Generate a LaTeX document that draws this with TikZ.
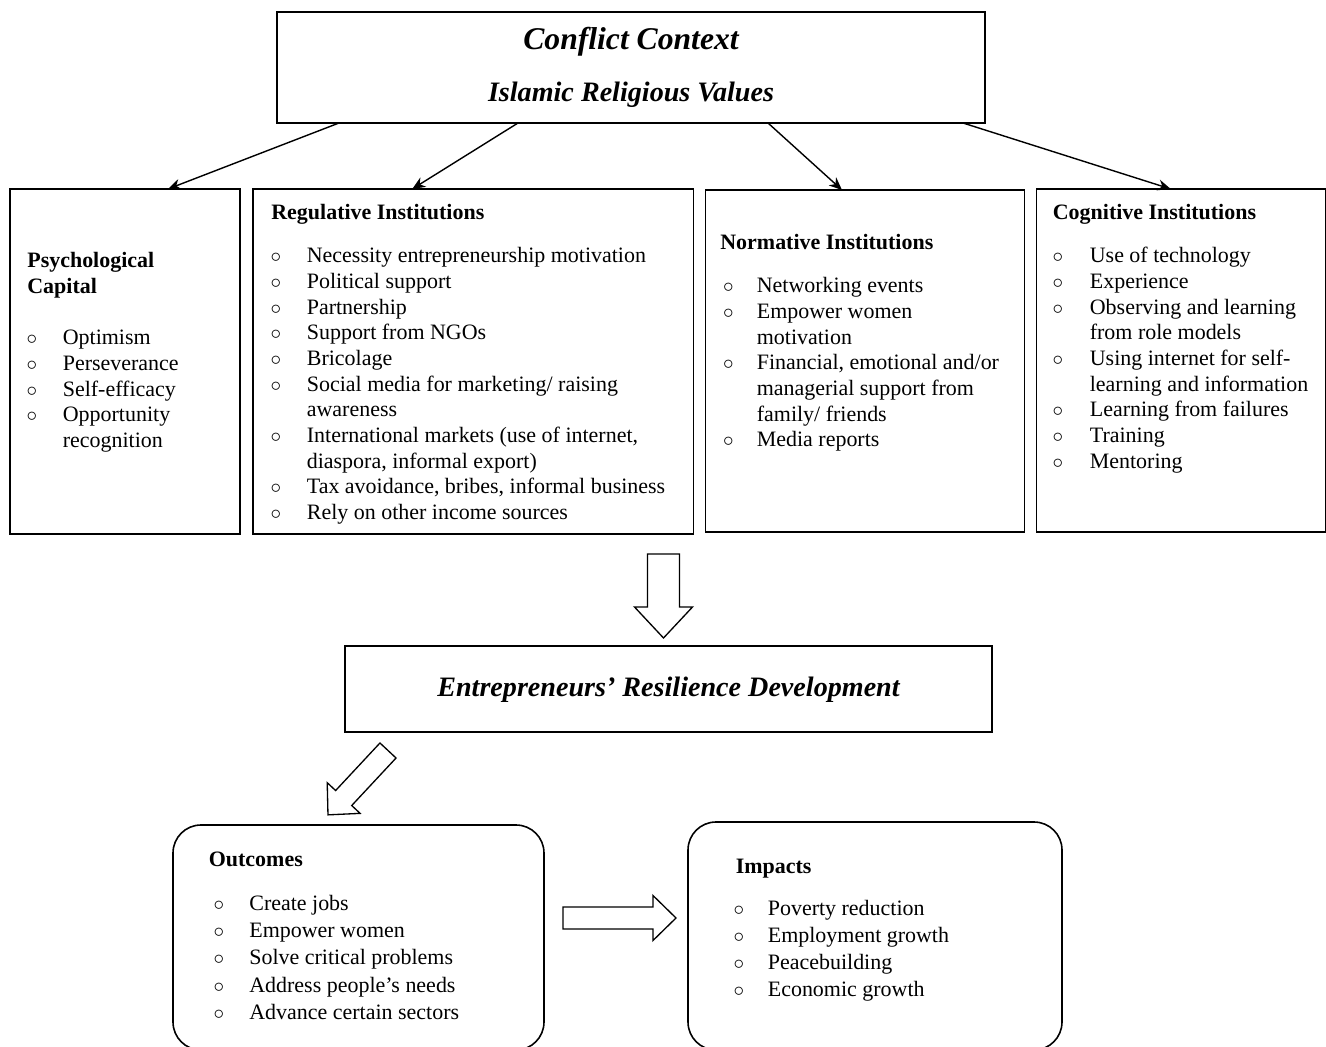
\documentclass[tikz,border=0pt]{standalone}
\usepackage{fontspec}
\setmainfont{Liberation Serif}
\usetikzlibrary{arrows.meta}

\newcommand{\itm}[3]{\hspace*{#1}\makebox[0pt]{$\circ$}\hspace*{\dimexpr#2-#1\relax}#3}
\newcommand{\cnt}[2]{\hspace*{#1}#2}
\newcommand{\fatarrow}[6]{%
	\draw[fatline, shift={#1}, rotate=#2] (0,-#4) -- ({#3-#6},-#4) -- ({#3-#6},-#5) -- (#3,0) -- ({#3-#6},#5) -- ({#3-#6},#4) -- (0,#4) -- cycle;}

\begin{document}
\begin{tikzpicture}[
	box/.style={draw, line width=0.9pt, outer sep=0pt, inner sep=0pt},
	rbox/.style={box, rounded corners=0.56cm},
	txt/.style={anchor=north west, inner sep=0pt, align=left, font=\fontsize{12.5}{14.6}\selectfont},
	btxt/.style={txt, font=\fontsize{12.5}{15.5}\selectfont},
	title/.style={anchor=base, inner sep=0pt, font=\fontsize{16}{18}\selectfont\bfseries\itshape},
	link/.style={-{Stealth[length=2.6mm, width=2.2mm]}, line width=0.8pt},
	fatline/.style={draw, fill=white, line width=0.75pt, line join=miter},
	]
	\useasboundingbox (0,0) rectangle (26.52,-20.94);
	
	\node[box, minimum width=14.16cm, minimum height=2.22cm] (ctx) at (12.62,-1.35) {};
	\node[title, font=\fontsize{18}{20}\selectfont\bfseries\itshape] (ctxa) at ([yshift=0.35cm]ctx.center) {Conflict Context};
	\node[title] (ctxb) at ([yshift=-0.68cm]ctx.center) {Islamic Religious Values};
	
	\node[box, minimum width=4.6cm, minimum height=6.9cm] (psy) at (2.5,-7.23) {};
	\node[box, minimum width=8.81cm, minimum height=6.9cm] (reg) at (9.465,-7.23) {};
	\node[box, minimum width=6.38cm, minimum height=6.84cm] (norm) at (17.3,-7.22) {};
	\node[box, minimum width=5.79cm, minimum height=6.86cm] (cog) at (23.625,-7.21) {};
	
	\node[txt] (psytxt) at ([xshift=0.34cm, yshift=-1.26cm]psy.north west) {\textbf{Psychological}\\\textbf{Capital}\\[14.8pt]
		\itm{0.09cm}{0.71cm}{Optimism}\\
		\itm{0.09cm}{0.71cm}{Perseverance}\\
		\itm{0.09cm}{0.71cm}{Self-efficacy}\\
		\itm{0.09cm}{0.71cm}{Opportunity}\\
		\cnt{0.71cm}{recognition}};
	
	\node[txt] (regtxt) at ([xshift=0.36cm, yshift=-0.30cm]reg.north west) {\textbf{Regulative Institutions}\\[10pt]
		\itm{0.09cm}{0.71cm}{Necessity entrepreneurship motivation}\\
		\itm{0.09cm}{0.71cm}{Political support}\\
		\itm{0.09cm}{0.71cm}{Partnership}\\
		\itm{0.09cm}{0.71cm}{Support from NGOs}\\
		\itm{0.09cm}{0.71cm}{Bricolage}\\
		\itm{0.09cm}{0.71cm}{Social media for marketing/ raising}\\
		\cnt{0.71cm}{awareness}\\
		\itm{0.09cm}{0.71cm}{International markets (use of internet,}\\
		\cnt{0.71cm}{diaspora, informal export)}\\
		\itm{0.09cm}{0.71cm}{Tax avoidance, bribes, informal business}\\
		\itm{0.09cm}{0.71cm}{Rely on other income sources}};
	
	\node[txt] (normtxt) at ([xshift=0.29cm, yshift=-0.88cm]norm.north west) {\textbf{Normative Institutions}\\[10pt]
		\itm{0.16cm}{0.73cm}{Networking events}\\
		\itm{0.16cm}{0.73cm}{Empower women}\\
		\cnt{0.73cm}{motivation}\\
		\itm{0.16cm}{0.73cm}{Financial, emotional and/or}\\
		\cnt{0.73cm}{managerial support from}\\
		\cnt{0.73cm}{family/ friends}\\
		\itm{0.16cm}{0.73cm}{Media reports}};
	
	\node[txt] (cogtxt) at ([xshift=0.32cm, yshift=-0.30cm]cog.north west) {\textbf{Cognitive Institutions}\\[10pt]
		\itm{0.10cm}{0.74cm}{Use of technology}\\
		\itm{0.10cm}{0.74cm}{Experience}\\
		\itm{0.10cm}{0.74cm}{Observing and learning}\\
		\cnt{0.74cm}{from role models}\\
		\itm{0.10cm}{0.74cm}{Using internet for self-}\\
		\cnt{0.74cm}{learning and information}\\
		\itm{0.10cm}{0.74cm}{Learning from failures}\\
		\itm{0.10cm}{0.74cm}{Training}\\
		\itm{0.10cm}{0.74cm}{Mentoring}};
	
	\draw[link] ([xshift=-5.84cm]ctx.south) -- ([xshift=0.86cm]psy.north);
	\draw[link] ([xshift=-2.26cm]ctx.south) -- ([xshift=-1.22cm]reg.north);
	\draw[link] ([xshift=2.74cm]ctx.south) -- ([xshift=-0.46cm]norm.north);
	\draw[link] ([xshift=6.64cm]ctx.south) -- ([xshift=-0.21cm]cog.north);
	
	\node[box, minimum width=12.93cm, minimum height=1.72cm] (erd) at (13.37,-13.78) {};
	\node[title] (erdtxt) at ([yshift=-0.155cm]erd.center) {Entrepreneurs’ Resilience Development};
	
	\node[rbox, minimum width=7.42cm, minimum height=4.5cm] (out) at (7.17,-18.75) {};
	\node[rbox, minimum width=7.48cm, minimum height=4.56cm] (imp) at (17.5,-18.72) {};
	
	\node[btxt] (outtxt) at ([xshift=0.71cm, yshift=-0.54cm]out.north west) {\textbf{Outcomes}\\[9.2pt]
		\itm{0.20cm}{0.81cm}{Create jobs}\\
		\itm{0.20cm}{0.81cm}{Empower women}\\
		\itm{0.20cm}{0.81cm}{Solve critical problems}\\
		\itm{0.20cm}{0.81cm}{Address people’s needs}\\
		\itm{0.20cm}{0.81cm}{Advance certain sectors}};
	
	\node[btxt] (imptxt) at ([xshift=0.95cm, yshift=-0.74cm]imp.north west) {\textbf{Impacts}\\[8pt]
		\itm{0.06cm}{0.64cm}{Poverty reduction}\\
		\itm{0.06cm}{0.64cm}{Employment growth}\\
		\itm{0.06cm}{0.64cm}{Peacebuilding}\\
		\itm{0.06cm}{0.64cm}{Economic growth}};
	
	\coordinate (downtail) at (13.27,-11.08);
	\coordinate (diagtail) at (7.76,-15.01);
	\coordinate (righttail) at (11.26,-18.36);
	\fatarrow{(downtail)}{-90}{1.68}{0.32}{0.58}{0.62}
	\fatarrow{(diagtail)}{227}{1.76}{0.22}{0.45}{0.46}
	\fatarrow{(righttail)}{0}{2.26}{0.22}{0.45}{0.46}
\end{tikzpicture}
\end{document}
